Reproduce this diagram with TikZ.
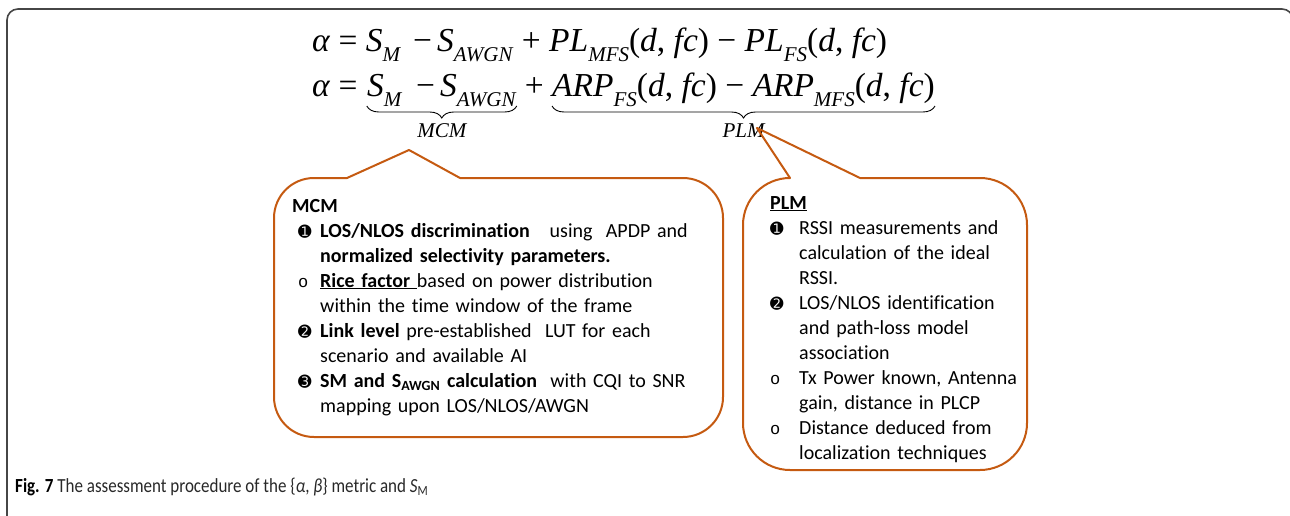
\documentclass[tikz,border=0pt]{standalone}
\usepackage{fontspec}
\setmainfont[Ligatures=NoCommon]{Carlito}
\newfontfamily\eqf{Liberation Serif}
\newfontfamily\dingf{DejaVu Sans}
\newfontfamily\monof{Liberation Mono}
\usetikzlibrary{decorations.pathreplacing,calc}

\definecolor{calloutorange}{RGB}{197,90,17}
\definecolor{framegray}{RGB}{70,70,70}
\definecolor{captiongray}{RGB}{40,40,40}

% subscripts and italic symbols of the formulas
\newcommand\sbs[1]{\raisebox{-0.28em}{\fontsize{21}{21}\selectfont #1}}
\newcommand\mi[1]{\textit{#1}}
% list markers
\newcommand\dnum[1]{{\dingf\fontsize{16}{16}\selectfont #1}}
\newcommand\hol{{\monof\fontsize{17}{17}\selectfont o}}
\newcommand\mcmitem[1]{\par\hangindent=28pt\hangafter=1\hspace*{6pt}\makebox[22pt][l]{#1}\ignorespaces}
\newcommand\plmitem[1]{\par\hangindent=29pt\hangafter=1\makebox[29pt][l]{#1}\ignorespaces}

\tikzset{
  eq/.style={font=\eqf\fontsize{33.5}{33.5}\selectfont, inner sep=0pt, anchor=base west},
  eqlab/.style={font=\eqf\itshape\fontsize{21}{21}\selectfont, inner sep=0pt},
  bracemark/.style={decorate, decoration={brace, amplitude=12pt, mirror}, line width=0.9pt},
  callout/.style={draw=calloutorange, line width=2pt, line join=round},
  boxtext/.style={font=\fontsize{20}{25}\selectfont, inner sep=0pt, anchor=base west,
                  text width=#1, align=left},
  framestyle/.style={draw=framegray, line width=1.6pt},
}

\begin{document}
\begin{tikzpicture}[x=1pt,y=-1pt]
\useasboundingbox (0,0) rectangle (1290,516);

% outer frame
\draw[framestyle, rounded corners=11pt] (7,540) -- (7,9) -- (1293,9) -- (1293,540);

% first formula
\node[eq] (eq1) at (312,52) {\mi{α} = \mi{S}\sbs{\mi{M}}\hspace{12pt}−\hspace{5pt}\mi{S}\sbs{\mi{AWGN}} + \mi{PL}\sbs{\mi{MFS}}(\mi{d}, \mi{fc}) − \mi{PL}\sbs{\mi{FS}}(\mi{d}, \mi{fc})};

% second formula, split into the braced groups
\node[eq] (a2) at (312,97) {\mi{α} =};
\node[eq] (g1) at ($(a2.base east)+(9,0)$) {\mi{S}\sbs{\mi{M}}\hspace{14pt}−\hspace{5pt}\mi{S}\sbs{\mi{AWGN}}};
\node[eq] (p2) at ($(g1.base east)+(8,0)$) {+};
\node[eq] (g2) at ($(p2.base east)+(8,0)$) {\mi{ARP}\sbs{\mi{FS}}(\mi{d}, \mi{fc}) − \mi{ARP}\sbs{\mi{MFS}}(\mi{d}, \mi{fc})};

\coordinate (bry) at (0,106);
\draw[bracemark] (g1.west |- bry) -- (g1.east |- bry);
\draw[bracemark] (g2.west |- bry) -- (g2.east |- bry);
\node[eqlab] (mcml) at ($(g1.west |- bry)!0.5!(g1.east |- bry)+(0,25)$) {MCM};
\node[eqlab] (plml) at ($(g2.west |- bry)!0.5!(g2.east |- bry)+(0,25)$) {PLM};

% callout outlines (y grows downwards, so arc angle 90 points down)
\coordinate (mcmtip) at (409,150);
\coordinate (plmtip) at (757,128);
\draw[callout] (mcmtip) -- (460,178) -- (683,178) arc[start angle=270, end angle=360, radius=40]
  -- (723,397) arc[start angle=0, end angle=90, radius=40]
  -- (314,437) arc[start angle=90, end angle=180, radius=40]
  -- (274,218) arc[start angle=180, end angle=270, radius=40]
  -- (347,178) -- cycle;
\draw[callout] (plmtip) -- (860,178) -- (980,178) arc[start angle=270, end angle=360, radius=47]
  -- (1027,423) arc[start angle=0, end angle=90, radius=47]
  -- (790,470) arc[start angle=90, end angle=180, radius=47]
  -- (743,225) arc[start angle=180, end angle=270, radius=47]
  -- cycle;

% callout texts
\node[boxtext=440pt] (mcmtext) at (292,212) {%
\textbf{MCM}
\mcmitem{\dnum{➊}}\textbf{LOS/NLOS discrimination}\ \ \ using\ \ APDP and\newline
\textbf{normalized selectivity parameters.}
\mcmitem{\hol}\underline{\textbf{Rice factor}\ }based on power distribution\newline
within the time window of the frame
\mcmitem{\dnum{➋}}\textbf{Link level} pre-established\ \ LUT for each\newline
scenario and available AI
\mcmitem{\dnum{➌}}\textbf{SM and S\textsubscript{AWGN} calculation}\ \ with CQI to SNR\newline
mapping upon LOS/NLOS/AWGN\par};

\node[boxtext=255pt] (plmtext) at (770,209) {%
\underline{\textbf{PLM}}
\plmitem{\dnum{➊}}RSSI measurements and\newline calculation of the ideal\newline RSSI.
\plmitem{\dnum{➋}}LOS/NLOS identification\newline and path-loss model\newline association
\plmitem{\hol}Tx Power known, Antenna\newline gain, distance in PLCP
\plmitem{\hol}Distance deduced from\newline localization techniques\par};

% caption
\node[font=\fontsize{20}{20}\selectfont, text=captiongray, anchor=base west, inner sep=0pt] (caption) at (15,492)
  {\scalebox{0.85}[1]{\textcolor{black}{\textbf{Fig. 7}} The assessment procedure of the \{\textit{α}, \textit{β}\} metric and \textit{S}\textsubscript{M}}};
\end{tikzpicture}
\end{document}
